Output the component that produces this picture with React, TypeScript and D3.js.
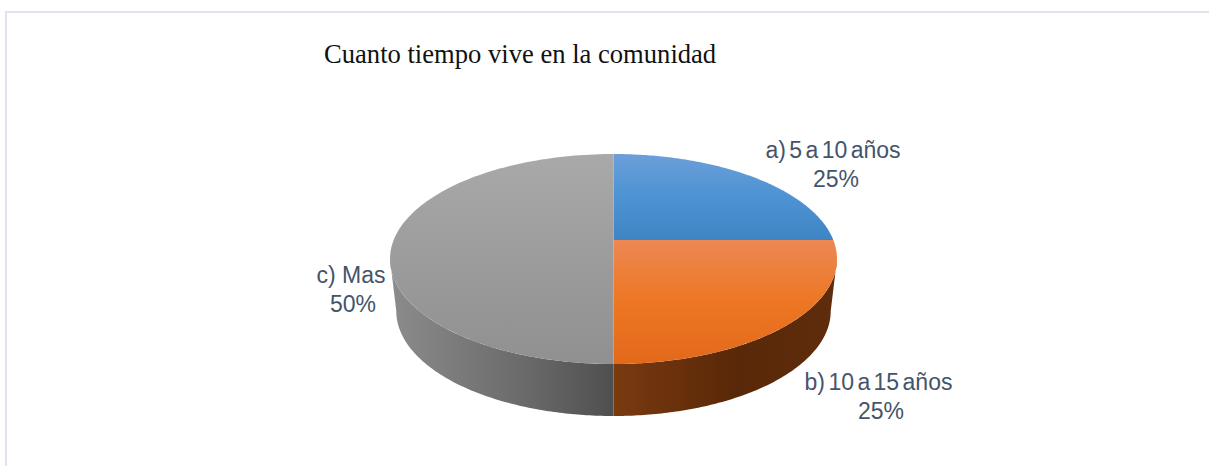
import React, { useMemo } from "react";
import * as d3 from "d3";

const categories = ["a) 5 a 10 años", "b) 10 a 15 años", "c) Mas"];
const values = [25, 25, 50];
const titleText = "Cuanto tiempo vive en la comunidad";
const topStops = [
  ["#6C9FD9", "#4F94D4", "#3F84C3"],
  ["#EC8855", "#EE7826", "#E3691A"],
  ["#A9A9A9", "#9D9D9D", "#909090"],
];
const wallStops = [
  ["#7A3A10", "#592808", "#5F2D0C"],
  ["#7A3A10", "#592808", "#5F2D0C"],
  ["#4F4F4F", "#6A6A6A", "#8C8C8C"],
];
const labelPos = [
  { x: 833, y: 158, px: 836 },
  { x: 878.5, y: 390, px: 881 },
  { x: 351, y: 283, px: 353 },
];

const cx = 613.5;
const hubY = 240;
const persp = 38 / 210;
const scaleY = 101.56;
const scaleX = 219.8;
const depth = 52;
const lowerShrink = 0.972;
const tangent = Math.asin(persp);

function project(theta: number, level = 0) {
  // theta clockwise from the back of the pie; level 0 = top face, 1 = base
  const u = Math.sin(theta);
  const v = Math.cos(theta);
  const w = 1 + persp * v;
  const s = level ? lowerShrink : 1;
  return [cx + (scaleX * s * u) / w, hubY + (level ? depth : 0) - (scaleY * v) / w] as [number, number];
}

export default function App() {
  const arcs = useMemo(() => d3.pie<number>().sort(null)(values), []);
  const line = d3.line();
  const slices = arcs.map((a) => {
    const ts = d3.range(0, 121).map((i) => a.startAngle + ((a.endAngle - a.startAngle) * i) / 120);
    return line([[cx, hubY], ...ts.map((t) => project(t))])! + "Z";
  });
  const walls = arcs.map((a) => {
    const s = Math.max(a.startAngle, Math.PI / 2 + tangent);
    const e = Math.min(a.endAngle, (3 * Math.PI) / 2 - tangent);
    if (e <= s) return null;
    const ts = d3.range(0, 121).map((i) => s + ((e - s) * i) / 120);
    const up = ts.map((t) => project(t));
    const low = ts.map((t) => project(t, 1)).reverse();
    return line([...up, ...low])! + "Z";
  });
  return (
    <svg width={1209} height={466} style={{ position: "absolute", left: 0, top: 0 }} fontFamily="'Liberation Sans'">
      <defs>
        {topStops.map((c, i) => (
          <linearGradient key={i} id={`top${i}`} x1="0" y1="0" x2="0" y2="1">
            <stop offset="0" stopColor={c[0]} />
            <stop offset="0.45" stopColor={c[1]} />
            <stop offset="1" stopColor={c[2]} />
          </linearGradient>
        ))}
        {wallStops.map((c, i) => (
          <linearGradient key={i} id={`wall${i}`} x1="0" y1="0" x2="1" y2="0">
            {i === 2 ? (
              <>
                <stop offset="0" stopColor={c[2]} />
                <stop offset="0.6" stopColor={c[1]} />
                <stop offset="1" stopColor={c[0]} />
              </>
            ) : (
              <>
                <stop offset="0" stopColor={c[0]} />
                <stop offset="0.55" stopColor={c[1]} />
                <stop offset="1" stopColor={c[2]} />
              </>
            )}
          </linearGradient>
        ))}
      </defs>
      <rect x={0} y={0} width={1209} height={466} fill="#fff" />
      <path d="M6 466V12H1209" fill="none" stroke="#E0E4EE" strokeWidth={2} />
      <text x={324} y={63} fontFamily="'Liberation Serif'" fontSize={26.6} fill="#111">
        {titleText}
      </text>
      {walls.map((d, i) => d && <path key={i} d={d} fill={`url(#wall${i})`} />)}
      {slices.map((d, i) => (
        <path key={i} d={d} fill={`url(#top${i})`} />
      ))}
      {categories.map((c, i) => (
        <text key={c} y={labelPos[i].y} textAnchor="middle" fontSize={23} fill="#44546A" wordSpacing={i === 2 ? 0 : -3}>
          <tspan x={labelPos[i].x}>{c}</tspan>
          <tspan x={labelPos[i].px} dy={29}>{`${values[i]}%`}</tspan>
        </text>
      ))}
    </svg>
  );
}
